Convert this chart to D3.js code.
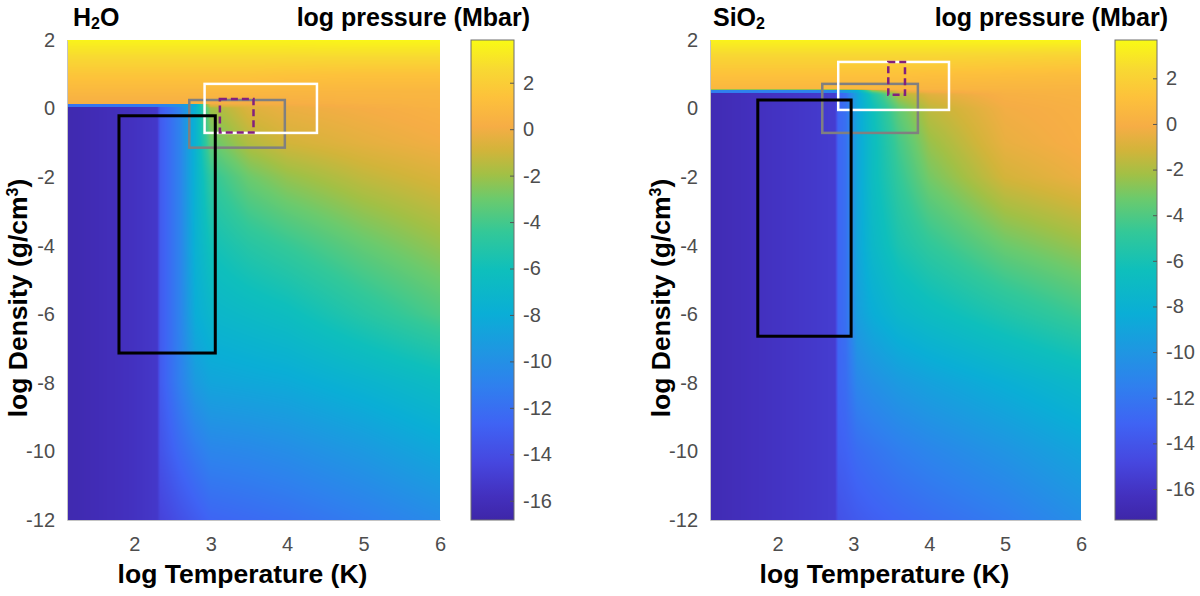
<!DOCTYPE html>
<html>
<head>
<meta charset="utf-8">
<script src="https://cdn.jsdelivr.net/npm/d3@7"></script>
<style>
  body { margin: 0; background: #fff; }
  svg { display: block; }
  text { font-family: "Liberation Sans", Arial, Helvetica, sans-serif; }
</style>
</head>
<body>
<svg id="chart" width="1200" height="596"></svg>
<script>
// ---- data ----
const tempTicks = [2, 3, 4, 5, 6];
const rhoTicks = [2, 0, -2, -4, -6, -8, -10, -12];
const barTicks = [2, 0, -2, -4, -6, -8, -10, -12, -14, -16];

// H2O: log P (Mbar) on a (log T, log rho) grid
const h2oTemp = [1.12, 1.6, 2.0, 2.3, 2.34, 2.45, 2.6, 2.8, 3.0, 3.5, 4.0, 5.0, 6.0];
const h2oRho  = [2.0, 1.5, 1.0, 0.5, 0.14, 0.125, 0.06, 0.045, 0.0, -1, -2, -4, -6, -8, -10, -12];
const h2oLogP = [
  [3.6, 3.6, 3.6, 3.6, 3.6, 3.6, 3.6, 3.6, 3.6, 3.6, 3.6, 3.7, 3.7],
  [2.6, 2.6, 2.6, 2.6, 2.6, 2.6, 2.6, 2.6, 2.6, 2.6, 2.6, 2.6, 2.6],
  [1.6, 1.6, 1.6, 1.6, 1.6, 1.6, 1.6, 1.6, 1.6, 1.6, 1.5, 1.4, 1.4],
  [0.8, 0.8, 0.8, 0.8, 0.8, 0.8, 0.8, 0.8, 0.8, 0.8, 0.7, 0.7, 0.7],
  [0.2, 0.2, 0.2, 0.2, 0.2, 0.2, 0.2, 0.2, 0.2, 0.1, 0.2, 0.4, 0.5],
  [-11.8, -11.6, -11.4, -11.2, -11.0, -10.6, -9.8, -8.0, -0.2, 0.0, 0.1, 0.3, 0.5],
  [-11.8, -11.6, -11.4, -11.2, -11.0, -10.6, -9.8, -8.0, -1.0, -0.4, -0.1, 0.2, 0.5],
  [-16.5, -16.1, -15.7, -15.3, -13.2, -12.3, -10.8, -7.5, -1.5, -0.5, -0.15, 0.2, 0.45],
  [-16.5, -16.1, -15.7, -15.3, -13.2, -12.3, -10.8, -7.5, -2.0, -0.6, -0.2, 0.1, 0.4],
  [-16.5, -16.1, -15.7, -15.3, -13.2, -12.3, -10.8, -7.5, -3.2, -1.6, -0.9, -0.4, 0.0],
  [-16.5, -16.1, -15.7, -15.3, -13.2, -12.3, -10.8, -7.5, -4.6, -3.0, -2.2, -1.3, -0.7],
  [-16.5, -16.1, -15.7, -15.3, -13.2, -12.3, -10.8, -7.6, -5.9, -5.0, -4.4, -3.2, -2.2],
  [-16.5, -16.1, -15.7, -15.3, -13.2, -12.3, -10.8, -8.0, -7.1, -6.7, -6.3, -5.0, -3.8],
  [-16.5, -16.1, -15.7, -15.3, -13.2, -12.3, -11.0, -9.3, -8.6, -8.4, -8.2, -7.4, -6.5],
  [-16.5, -16.1, -15.7, -15.3, -13.7, -13.1, -12.3, -11.4, -10.7, -10.5, -10.2, -9.4, -8.4],
  [-16.5, -16.1, -15.7, -15.3, -14.6, -14.3, -13.8, -13.2, -12.6, -12.3, -12.0, -11.2, -10.3]
];
const h2oRange = [-16.83, 3.84];

// SiO2
const sio2Temp = [1.11, 1.6, 2.0, 2.4, 2.76, 2.8, 2.9, 3.05, 3.25, 3.6, 4.0, 5.0, 6.0];
const sio2Rho  = [2.0, 1.5, 1.0, 0.56, 0.545, 0.47, 0.45, 0.4, 0.0, -1, -2, -4, -6, -8, -10, -12];
const sio2LogP = [
  [3.4, 3.4, 3.4, 3.4, 3.4, 3.4, 3.4, 3.4, 3.4, 3.4, 3.4, 3.5, 3.5],
  [2.2, 2.2, 2.2, 2.2, 2.2, 2.2, 2.2, 2.2, 2.2, 2.2, 2.2, 2.1, 2.0],
  [1.2, 1.2, 1.2, 1.2, 1.2, 1.2, 1.2, 1.2, 1.2, 1.2, 1.1, 1.0, 0.9],
  [0.5, 0.5, 0.5, 0.5, 0.5, 0.5, 0.5, 0.5, 0.5, 0.4, 0.4, 0.35, 0.35],
  [-11.5, -11.4, -11.3, -11.2, -11.0, -10.5, -9.5, -8.0, -2.0, 0.0, 0.2, 0.3, 0.35],
  [-11.5, -11.4, -11.3, -11.2, -11.0, -10.5, -9.5, -8.5, -4.5, -1.0, -0.3, 0.2, 0.3],
  [-16.8, -16.4, -16.1, -15.8, -15.5, -13.0, -12.4, -9.0, -5.0, -1.5, -0.5, 0.15, 0.3],
  [-16.8, -16.4, -16.1, -15.8, -15.5, -13.0, -12.4, -9.0, -5.8, -2.0, -0.8, 0.1, 0.25],
  [-16.8, -16.4, -16.1, -15.8, -15.5, -13.0, -12.4, -9.0, -6.5, -3.5, -1.6, -0.2, 0.1],
  [-16.8, -16.4, -16.1, -15.8, -15.5, -13.0, -12.4, -9.0, -6.8, -4.3, -2.4, -0.5, 0.0],
  [-16.8, -16.4, -16.1, -15.8, -15.5, -13.0, -12.4, -9.0, -6.8, -4.8, -3.1, -1.1, -0.4],
  [-16.8, -16.4, -16.1, -15.8, -15.5, -13.0, -12.4, -9.0, -7.3, -5.8, -4.9, -3.3, -2.4],
  [-16.8, -16.4, -16.1, -15.8, -15.5, -13.0, -12.4, -9.4, -8.4, -7.4, -6.8, -5.6, -4.5],
  [-16.8, -16.4, -16.1, -15.8, -15.5, -13.0, -12.6, -11.0, -10.4, -9.7, -9.2, -8.2, -7.2],
  [-16.8, -16.4, -16.1, -15.8, -15.5, -13.4, -13.2, -12.6, -12.2, -11.6, -11.1, -10.1, -9.0],
  [-16.8, -16.4, -16.1, -15.8, -15.5, -14.2, -14.0, -13.7, -13.4, -13.0, -12.6, -11.7, -10.5]
];
const sio2Range = [-17.36, 3.68];

// outlined regions: [logT from, logT to], [log rho from, log rho to]
const h2oBoxes = [
  { kind: 'gray',   temp: [2.72, 3.97], rho: [-1.14, 0.25] },
  { kind: 'white',  temp: [2.92, 4.39], rho: [-0.71, 0.72] },
  { kind: 'black',  temp: [1.80, 3.06], rho: [-7.13, -0.21] },
  { kind: 'purple', temp: [3.12, 3.56], rho: [-0.70, 0.28] }
];
const sio2Boxes = [
  { kind: 'gray',   temp: [2.59, 3.85], rho: [-0.71, 0.72] },
  { kind: 'white',  temp: [2.80, 4.26], rho: [-0.04, 1.36] },
  { kind: 'black',  temp: [1.74, 2.97], rho: [-6.64, 0.25] },
  { kind: 'purple', temp: [3.46, 3.68], rho: [0.40, 1.36] }
];

// parula-like colour stops
const parulaStops  = [0, 0.05, 0.12, 0.2, 0.28, 0.35, 0.43, 0.52, 0.6, 0.67, 0.72, 0.77, 0.82, 0.88, 0.94, 1];
const parulaColors = ['#3e26a8', '#4330be', '#4647df', '#3f63f4', '#2f80ee', '#1f96e2', '#0aaed6', '#0ebfbc',
                      '#33c898', '#6cca6c', '#a2c045', '#d2b43a', '#f6ad45', '#fdc13b', '#f8d932', '#f9fa14'];

// ---- layout / styles ----
const plotTop = 40, plotBottom = 520;
const boxStyle = {
  gray:   { stroke: '#808080', width: 2.5, dash: null },
  white:  { stroke: '#ffffff', width: 2.5, dash: null },
  black:  { stroke: '#000000', width: 3,   dash: null },
  purple: { stroke: '#82207e', width: 2.5, dash: '7,4' }
};

const panels = [
  { name: 'H', sub: '2', rest: 'O', temp: h2oTemp, rho: h2oRho, logP: h2oLogP, range: h2oRange, boxes: h2oBoxes,
    tDomain: [1.12, 6], plotX: [67, 440], cbX: [471, 514], titleX: 73, unitEnd: 530, yTitleX: 27 },
  { name: 'SiO', sub: '2', rest: '', temp: sio2Temp, rho: sio2Rho, logP: sio2LogP, range: sio2Range, boxes: sio2Boxes,
    tDomain: [1.11, 6], plotX: [710, 1081], cbX: [1115, 1157], titleX: 713, unitEnd: 1168, yTitleX: 670 }
];

const plain = d => String(d);   // hyphen-minus, no decimals

const svg = d3.select('#chart');
const defs = svg.append('defs');

function makeColor(range) {
  const [lo, hi] = range;
  return d3.scaleLinear()
    .domain(parulaStops.map(t => lo + t * (hi - lo)))
    .range(parulaColors)
    .interpolate(d3.interpolateRgb)
    .clamp(true);
}

function drawField(g, p, x, y, color) {
  const left = p.plotX[0], top = plotTop;
  const w = Math.round(p.plotX[1] - p.plotX[0]);
  const h = plotBottom - plotTop;

  // lookup table for colours
  const lutN = 1024;
  const lutScale = d3.scaleLinear().domain([0, lutN - 1]).range(p.range);
  const lut = d3.range(lutN).map(i => d3.rgb(color(lutScale(i))));
  const toIdx = d3.scaleLinear().domain(p.range).range([0, lutN - 1]).clamp(true);

  const colScales = p.temp.map((t, j) =>
    d3.scaleLinear().domain(p.rho).range(p.logP.map(r => r[j])).clamp(true));

  const canvas = document.createElement('canvas');
  canvas.width = w;
  canvas.height = h;
  const ctx = canvas.getContext('2d');
  const img = ctx.createImageData(w, h);

  for (let py = 0; py < h; py++) {
    const rho = y.invert(top + py + 0.5);
    const rowScale = d3.scaleLinear().domain(p.temp).range(colScales.map(s => s(rho))).clamp(true);
    for (let px = 0; px < w; px++) {
      const v = rowScale(x.invert(left + px + 0.5));
      const c = lut[Math.round(toIdx(v))];
      const k = (py * w + px) * 4;
      img.data[k] = c.r;
      img.data[k + 1] = c.g;
      img.data[k + 2] = c.b;
      img.data[k + 3] = 255;
    }
  }
  ctx.putImageData(img, 0, 0);

  g.append('image')
    .attr('x', left)
    .attr('y', top)
    .attr('width', w)
    .attr('height', h)
    .attr('preserveAspectRatio', 'none')
    .attr('href', canvas.toDataURL());
}

panels.forEach((p, i) => {
  const g = svg.append('g');

  const x = d3.scaleLinear().domain(p.tDomain).range(p.plotX);
  const y = d3.scaleLinear().domain([-12, 2]).range([plotBottom, plotTop]);
  const color = makeColor(p.range);

  drawField(g, p, x, y, color);

  // axes
  const xAxis = g.append('g')
    .attr('transform', `translate(0,${plotBottom})`)
    .call(d3.axisBottom(x).tickValues(tempTicks).tickFormat(plain)
      .tickSize(0).tickPadding(17).tickSizeOuter(0));
  const yAxis = g.append('g')
    .attr('transform', `translate(${p.plotX[0]},0)`)
    .call(d3.axisLeft(y).tickValues(rhoTicks).tickFormat(plain)
      .tickSize(0).tickPadding(12).tickSizeOuter(0));
  [xAxis, yAxis].forEach(a => {
    a.select('.domain').attr('stroke', '#c4c4c4').attr('stroke-width', 1);
    a.selectAll('text').attr('font-size', 20).attr('fill', '#4d4d4d');
  });

  // outlined regions
  p.boxes.forEach(b => {
    const s = boxStyle[b.kind];
    g.append('rect')
      .attr('x', x(b.temp[0]))
      .attr('y', y(b.rho[1]))
      .attr('width', x(b.temp[1]) - x(b.temp[0]))
      .attr('height', y(b.rho[0]) - y(b.rho[1]))
      .attr('fill', 'none')
      .attr('stroke', s.stroke)
      .attr('stroke-width', s.width)
      .attr('stroke-dasharray', s.dash);
  });

  // colour bar
  const gradId = 'parula' + i;
  const grad = defs.append('linearGradient')
    .attr('id', gradId)
    .attr('x1', 0).attr('y1', 1).attr('x2', 0).attr('y2', 0);
  grad.selectAll('stop')
    .data(parulaStops)
    .join('stop')
    .attr('offset', d => d)
    .attr('stop-color', (d, k) => parulaColors[k]);

  const yBar = d3.scaleLinear().domain(p.range).range([plotBottom, plotTop]);
  g.append('rect')
    .attr('x', p.cbX[0])
    .attr('y', plotTop)
    .attr('width', p.cbX[1] - p.cbX[0])
    .attr('height', plotBottom - plotTop)
    .attr('fill', `url(#${gradId})`)
    .attr('stroke', '#6e6e6e')
    .attr('stroke-width', 1);

  const barAxis = g.append('g')
    .attr('transform', `translate(${p.cbX[1]},0)`)
    .call(d3.axisRight(yBar).tickValues(barTicks).tickFormat(plain)
      .tickSizeInner(-4).tickSizeOuter(0).tickPadding(9));
  barAxis.select('.domain').remove();
  barAxis.selectAll('line').attr('stroke', '#555');
  barAxis.selectAll('text').attr('font-size', 20).attr('fill', '#4d4d4d');

  // titles
  const title = g.append('text')
    .attr('x', p.titleX)
    .attr('y', 26)
    .attr('font-size', 25)
    .attr('font-weight', 'bold')
    .attr('fill', '#000');
  title.append('tspan').text(p.name);
  title.append('tspan').attr('font-size', 16).attr('dy', 3).text(p.sub);
  title.append('tspan').attr('dy', -3).text(p.rest);

  g.append('text')
    .attr('x', p.unitEnd)
    .attr('y', 26)
    .attr('text-anchor', 'end')
    .attr('font-size', 25)
    .attr('font-weight', 'bold')
    .text('log pressure (Mbar)');

  g.append('text')
    .attr('x', (p.plotX[0] + p.plotX[1]) / 2 - 11)
    .attr('y', 583)
    .attr('text-anchor', 'middle')
    .attr('font-size', 26.5)
    .attr('font-weight', 'bold')
    .text('log Temperature (K)');

  const yt = g.append('text')
    .attr('transform', `translate(${p.yTitleX},298) rotate(-90)`)
    .attr('text-anchor', 'middle')
    .attr('font-size', 26.5)
    .attr('font-weight', 'bold');
  yt.append('tspan').text('log Density (g/cm');
  yt.append('tspan').attr('font-size', 16).attr('dy', -9).text('3');
  yt.append('tspan').attr('dy', 9).text(')');
});
</script>
</body>
</html>
